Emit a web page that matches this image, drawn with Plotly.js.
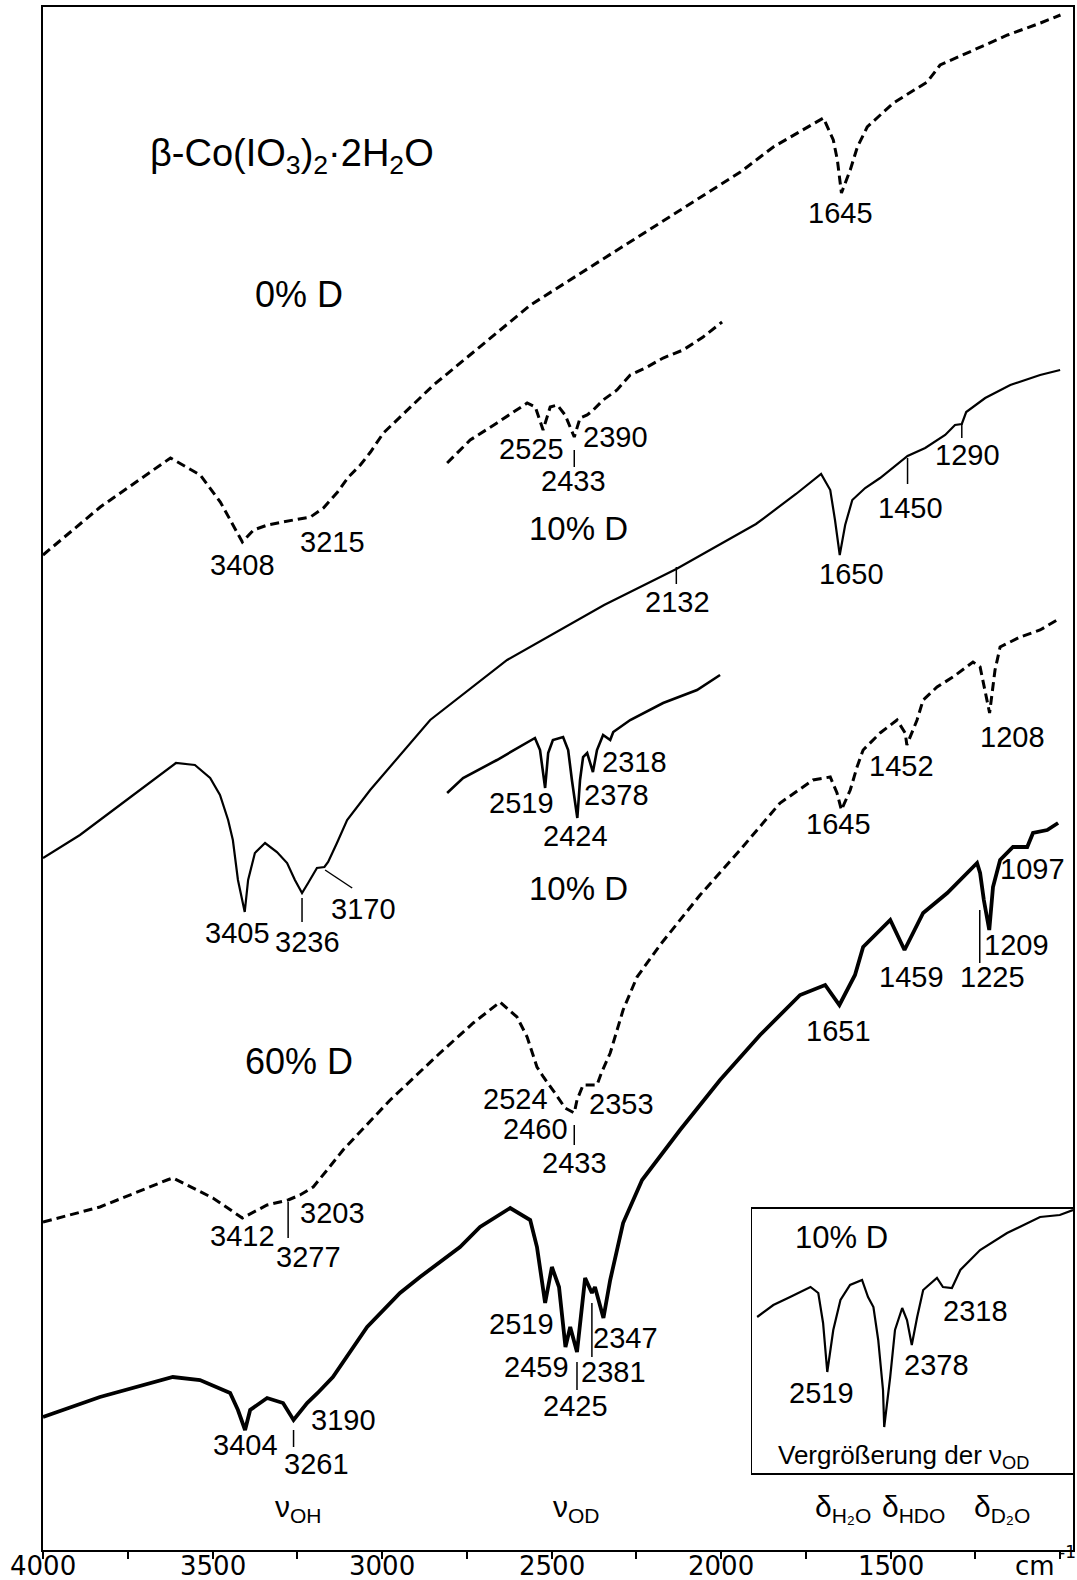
<!DOCTYPE html>
<html>
<head>
<meta charset="utf-8">
<script src="https://cdn.plot.ly/plotly-3.0.1.min.js"></script>
<style>html,body{margin:0;padding:0;background:#fff;}</style>
</head>
<body>
<div id="chart" style="width:1077px;height:1580px;"></div>
<script>
// ---------- DATA (wavenumber in cm^-1, transmittance in arbitrary offset units) ----------
// 0% D, full spectrum (dashed)
const wn_0D = [4000,3831,3624,3536,3477,3448,3412,3379,3338,3261,3211,3173,3131,3099,3064,3034,2996,2848,2562,2297,1943,1846,1746,1698,1669,1657,1645,1619,1598,1569,1492,1392,1354,1256,1155,1058,999];
const tr_0D = [981,1029,1078,1061,1034,1016,994,1006,1011,1016,1019,1028,1044,1059,1071,1084,1103,1151,1231,1288,1364,1389,1409,1418,1396,1376,1343,1366,1389,1409,1433,1454,1471,1486,1501,1513,1521];
// 0% D, nu(OD) region (dashed)
const wn_0D_od = [2808,2740,2661,2572,2548,2525,2504,2483,2460,2433,2416,2395,2377,2348,2307,2268,2218,2171,2112,2053,1997];
const tr_0D_od = [1073,1096,1113,1133,1129,1106,1129,1131,1121,1099,1118,1121,1126,1136,1146,1161,1169,1178,1186,1199,1214];
// 10% D, full spectrum (solid)
const wn_10D = [4000,3891,3773,3684,3608,3552,3507,3478,3454,3440,3425,3405,3395,3375,3345,3310,3280,3257,3236,3218,3192,3170,3159,3133,3103,3035,2947,2858,2631,2345,2132,1897,1779,1705,1678,1664,1650,1634,1613,1575,1531,1450,1398,1339,1310,1290,1277,1221,1147,1059,1000];
const tr_10D = [678,701,731,754,773,771,758,741,716,696,656,624,656,683,693,684,673,656,643,653,668,669,674,693,716,746,781,816,876,931,967,1012,1042,1062,1046,1016,981,1011,1036,1048,1058,1080,1088,1101,1111,1112,1124,1138,1151,1161,1166];
// 10% D, nu(OD) region (solid)
const wn_10D_od = [2808,2761,2661,2563,2549,2534,2519,2510,2496,2466,2451,2440,2424,2416,2407,2395,2378,2366,2348,2327,2318,2268,2171,2071,2003];
const tr_10D_od = [743,758,776,796,798,786,748,783,796,799,786,756,718,756,779,783,764,786,801,796,804,816,833,846,861];
// 60% D (dashed)
const wn_60D_a = [4000,3832,3634,3617,3499,3412,3339,3277,3242,3203,3162,3115,2976,2829,2731,2652,2602,2572,2543,2524,2490,2460,2433,2425,2407,2366,2353,2327,2289,2248,2180,2062,1944,1826,1729,1678,1658,1645,1619,1599,1581,1531,1481,1457,1452,1422,1404,1363,1316,1257,1236,1224,1208,1192,1177,1118,1059,1009];
const tr_60D_a = [314,329,356,358,338,318,331,336,341,349,366,386,436,483,513,534,519,499,469,459,443,428,423,436,451,451,463,483,526,559,591,641,686,733,756,759,743,726,746,769,786,803,816,803,791,816,836,849,859,874,869,849,823,866,889,899,906,916];
// 60% D (solid)
const wn_60D_b = [4000,3832,3617,3537,3448,3425,3404,3389,3339,3292,3261,3221,3190,3145,3044,2947,2888,2770,2711,2622,2563,2543,2519,2499,2478,2459,2445,2425,2401,2381,2372,2347,2327,2289,2233,2121,2003,1885,1767,1693,1651,1605,1581,1501,1459,1434,1404,1333,1257,1245,1236,1225,1209,1198,1177,1139,1097,1080,1038,1006];
const tr_60D_b = [119,139,159,156,143,126,106,126,138,133,116,133,143,159,209,243,259,289,309,328,316,289,233,269,249,189,209,184,258,243,249,218,256,313,356,406,456,501,541,551,531,561,589,616,586,603,623,643,669,673,663,636,606,649,676,689,689,703,706,713];
// Inset: enlargement of nu(OD), 10% D
const wn_inset = [2636,2609,2581,2547,2534,2526,2519,2509,2497,2481,2461,2451,2442,2434,2426,2424,2414,2406,2394,2386,2378,2369,2359,2336,2326,2311,2297,2264,2219,2164,2131,2109];
const tr_inset = [219,231,239,249,243,213,164,206,236,251,256,239,229,196,146,109,159,206,228,216,191,219,246,258,249,248,266,286,303,319,321,326];
// Axis ticks
const tick_vals = [4000,3750,3500,3250,3000,2750,2500,2250,2000,1750,1500,1250,1000];
const tick_text = ['4000','','3500','','3000','','2500','','2000','','1500','',''];

// ---------- TRACES ----------
const dashStyle = {color:'#000', width:3, dash:'9px,5px'};
const solidStyle = {color:'#000', width:2.2};
const traces = [
  {x:wn_0D, y:tr_0D, mode:'lines', line:dashStyle},
  {x:wn_0D_od, y:tr_0D_od, mode:'lines', line:dashStyle},
  {x:wn_10D, y:tr_10D, mode:'lines', line:solidStyle},
  {x:wn_10D_od, y:tr_10D_od, mode:'lines', line:{color:'#000', width:2.6}},
  {x:wn_60D_a, y:tr_60D_a, mode:'lines', line:dashStyle},
  {x:wn_60D_b, y:tr_60D_b, mode:'lines', line:{color:'#000', width:3.8}},
  {x:wn_inset, y:tr_inset, mode:'lines', line:{color:'#000', width:2.2}, xaxis:'x2', yaxis:'y2'}
];

// ---------- ANNOTATIONS ----------
const FONT = 'Liberation Sans, Arial, sans-serif';
function lab(text, x, y, size, ax) {
  return {text:text, x:x, y:y, xref:ax ? 'x2':'x', yref:ax ? 'y2':'y', showarrow:false,
          xanchor:'center', yanchor:'middle', font:{family:FONT, size:size||29, color:'#000'}};
}
const annotations = [
  lab('β-Co(IO<sub>3</sub>)<sub>2</sub>·2H<sub>2</sub>O', 3265, 1380, 38),
  lab('0% D', 3245, 1242, 36),
  lab('1645', 1649, 1323),
  lab('2525', 2560, 1087),
  lab('2390', 2310, 1099),
  lab('2433', 2434, 1055),
  lab('10% D', 2422, 1008, 33),
  lab('3408', 3413, 971),
  lab('3215', 3145, 994),
  lab('2132', 2130, 934),
  lab('1650', 1616, 962),
  lab('1450', 1442, 1028),
  lab('1290', 1274, 1081),
  lab('3405', 3425, 603),
  lab('3236', 3221, 594),
  lab('3170', 3056, 627),
  lab('2519', 2590, 733),
  lab('2424', 2428, 700),
  lab('2378', 2307, 741),
  lab('2318', 2254, 774),
  lab('10% D', 2422, 648, 33),
  lab('60% D', 3245, 475, 36),
  lab('1645', 1655, 712),
  lab('1452', 1469, 770),
  lab('1208', 1141, 799),
  lab('1097', 1080, 667),
  lab('1209', 1130, 591),
  lab('1225', 1200, 559),
  lab('1459', 1439, 559),
  lab('1651', 1655, 505),
  lab('2524', 2605, 437),
  lab('2353', 2295, 432),
  lab('2460', 2546, 407),
  lab('2433', 2431, 373),
  lab('3412', 3413, 300),
  lab('3277', 3218, 279),
  lab('3203', 3147, 323),
  lab('3404', 3404, 91),
  lab('3190', 3115, 116),
  lab('3261', 3192, 72),
  lab('2519', 2590, 212),
  lab('2347', 2283, 198),
  lab('2381', 2316, 164),
  lab('2459', 2543, 169),
  lab('2425', 2428, 130),
  lab('ν<sub>OH</sub>', 3245, 28, 30),
  lab('ν<sub>OD</sub>', 2425, 28, 30),
  lab('δ<sub>H₂O</sub>', 1640, 28, 30),
  lab('δ<sub>HDO</sub>', 1433, 28, 30),
  lab('δ<sub>D₂O</sub>', 1171, 28, 30),
  // inset
  lab('10% D', 2496, 298, 31, true),
  lab('2519', 2529, 143, 29, true),
  lab('2378', 2336, 171, 29, true),
  lab('2318', 2272, 225, 29, true),
  lab('Vergrößerung der ν<sub>OD</sub>', 2392, 80, 26, true),
  // axis unit
  {text:'cm', xref:'paper', yref:'paper', x:0.963, y:-0.0104, showarrow:false, xanchor:'center', yanchor:'middle',
   font:{family:'DejaVu Sans', size:26, color:'#000'}},
  {text:'-1', xref:'paper', yref:'paper', x:0.995, y:-0.001, showarrow:false, xanchor:'center', yanchor:'middle',
   font:{family:'DejaVu Sans', size:17, color:'#000'}}
];
// x tick labels, placed directly under the tick marks
tick_vals.forEach(function(v, i) {
  if (tick_text[i]) {
    annotations.push({text:tick_text[i], x:v, xref:'x', yref:'paper', y:-0.0104, showarrow:false,
      xanchor:'center', yanchor:'middle', font:{family:'DejaVu Sans', size:26, color:'#000'}});
  }
});

// marker lines pointing from labels to bands
function seg(x0, y0, x1, y1) {
  return {type:'line', xref:'x', yref:'y', x0:x0, y0:y0, x1:x1, y1:y1, line:{color:'#000', width:1.5}};
}
const shapes = [
  seg(2433, 1069, 2433, 1086),
  seg(2132, 952, 2132, 969),
  seg(1450, 1052, 1450, 1078),
  seg(1290, 1098, 1290, 1113),
  seg(3236, 614, 3236, 638),
  seg(3168, 666, 3088, 648),
  seg(2433, 391, 2433, 411),
  seg(3277, 298, 3277, 334),
  seg(1237, 573, 1237, 626),
  seg(3261, 89, 3261, 106),
  seg(2381, 179, 2381, 233),
  seg(2425, 146, 2425, 174)
];

const layout = {
  width:1077, height:1580,
  margin:{l:43, r:4, t:7, b:30},
  paper_bgcolor:'#fff', plot_bgcolor:'#fff',
  showlegend:false,
  font:{family:FONT, color:'#000'},
  xaxis:{range:[4000,962], showline:true, mirror:true, linecolor:'#000', linewidth:2,
         ticks:'outside', ticklen:7, tickwidth:2, tickcolor:'#000',
         tickmode:'array', tickvals:tick_vals, showticklabels:false,
         showgrid:false, zeroline:false},
  yaxis:{range:[-14,1529], showline:true, mirror:true, linecolor:'#000', linewidth:2,
         showticklabels:false, ticks:'', showgrid:false, zeroline:false},
  xaxis2:{domain:[0.6887,1], anchor:'y2', range:[2644,2109], showline:true, mirror:true,
          linecolor:'#000', linewidth:1.5, showticklabels:false, ticks:'', showgrid:false, zeroline:false},
  yaxis2:{domain:[0.0499,0.2210], anchor:'x2', range:[63,327], showline:true, mirror:true,
          linecolor:'#000', linewidth:1.5, showticklabels:false, ticks:'', showgrid:false, zeroline:false},
  annotations:annotations,
  shapes:shapes
};

Plotly.newPlot('chart', traces, layout, {displayModeBar:false, staticPlot:true});
</script>
</body>
</html>
